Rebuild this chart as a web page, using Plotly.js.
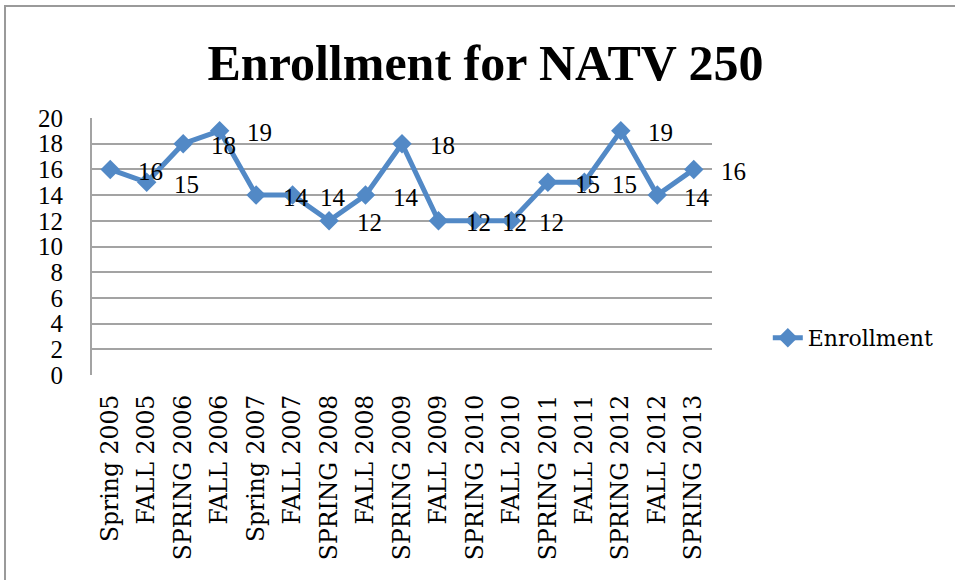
<!DOCTYPE html>
<html>
<head>
<meta charset="utf-8">
<script src="https://cdn.plot.ly/plotly-3.0.1.min.js"></script>
<style>
  html, body { margin: 0; padding: 0; background: #ffffff; overflow: hidden; }
  #chart { width: 955px; height: 580px; }
</style>
</head>
<body>
<div id="chart"></div>
<script>
// ---- data ----
const categories = [
  "Spring 2005", "FALL 2005", "SPRING 2006", "FALL 2006", "Spring 2007",
  "FALL 2007", "SPRING 2008", "FALL 2008", "SPRING 2009", "FALL 2009",
  "SPRING 2010", "FALL 2010", "SPRING 2011", "FALL 2011", "SPRING 2012",
  "FALL 2012", "SPRING 2013"
];
const enrollment = [16, 15, 18, 19, 14, 14, 12, 14, 18, 12, 12, 12, 15, 15, 19, 14, 16];
const seriesName = "Enrollment";
const chartTitle = "Enrollment for NATV 250";
const yTickValues = [0, 2, 4, 6, 8, 10, 12, 14, 16, 18, 20];

// ---- styling ----
const lineColor = "#5289c6";
const gridColor = "#a3a3a3";
const digitFont = "Liberation Serif, Times New Roman, serif";
const textFont = "DejaVu Serif, serif";

const trace = {
  type: "scatter",
  mode: "lines+markers",
  name: seriesName,
  x: categories,
  y: enrollment,
  line: { color: lineColor, width: 5 },
  marker: { symbol: "diamond", size: 15, color: lineColor },
  hoverinfo: "x+y"
};

const annotations = categories.map((c, i) => ({
  x: c,
  y: enrollment[i],
  xref: "x",
  yref: "y",
  text: String(enrollment[i]),
  showarrow: false,
  xanchor: "center",
  yanchor: "middle",
  xshift: 40,
  yshift: -2,
  font: { family: digitFont, size: 25, color: "#000000" }
}));

const layout = {
  width: 955,
  height: 580,
  paper_bgcolor: "#ffffff",
  plot_bgcolor: "#ffffff",
  margin: { l: 92, r: 243, t: 118, b: 205, pad: 0 },
  title: {
    text: "<b>" + chartTitle + "</b>",
    font: { family: digitFont, size: 50, color: "#000000" },
    x: 0.5084,
    xref: "container",
    xanchor: "center",
    y: 0.892,
    yref: "container",
    yanchor: "middle"
  },
  xaxis: {
    type: "category",
    range: [-0.5, categories.length - 0.5],
    showgrid: false,
    zeroline: false,
    showline: false,
    ticks: "",
    tickangle: -90,
    tickfont: { family: textFont, size: 23.5, color: "#000000" },
    ticklabelstandoff: 14,
    fixedrange: true
  },
  yaxis: {
    range: [0, 20],
    tickvals: yTickValues,
    ticktext: yTickValues.map(String),
    showgrid: true,
    gridcolor: gridColor,
    gridwidth: 2,
    zeroline: false,
    showline: true,
    linecolor: gridColor,
    linewidth: 2,
    ticks: "",
    ticklabelstandoff: 22,
    tickfont: { family: digitFont, size: 25, color: "#000000" },
    fixedrange: true
  },
  showlegend: true,
  legend: {
    x: 1.09,
    xanchor: "left",
    y: 0.144,
    yanchor: "middle",
    bgcolor: "rgba(0,0,0,0)",
    font: { family: textFont, size: 22, color: "#000000" }
  },
  annotations: annotations,
  shapes: [{
    type: "rect",
    xref: "paper",
    yref: "paper",
    x0: -0.1403,
    x1: 2,
    y0: -2,
    y1: 1.4358,
    line: { color: "#9a9a9a", width: 2 },
    fillcolor: "rgba(0,0,0,0)",
    layer: "below"
  }]
};

Plotly.newPlot("chart", [trace], layout, { displayModeBar: false, staticPlot: true });
</script>
</body>
</html>
